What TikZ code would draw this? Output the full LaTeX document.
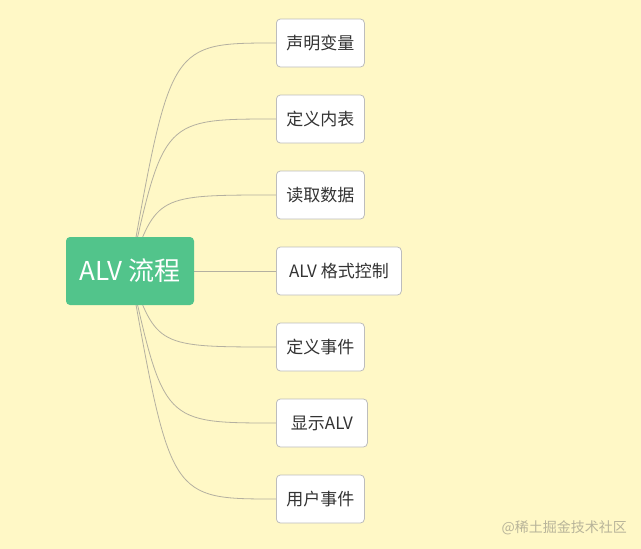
\documentclass[tikz,border=0pt]{standalone}
\usepackage{fontspec}
\setmainfont{Noto Sans CJK SC}
\usetikzlibrary{backgrounds}
\definecolor{bgc}{HTML}{FFF8C6}
\definecolor{greenc}{HTML}{52C48B}
\definecolor{linec}{HTML}{B4B0A0}
\definecolor{boxc}{HTML}{BDBDBD}
\definecolor{txtc}{HTML}{333333}
\definecolor{wmc}{HTML}{B8B49A}
\begin{document}
\begin{tikzpicture}[x=1pt,y=-1pt,
  rootbox/.style={fill=greenc,rounded corners=4pt,text=white,font=\fontsize{26}{30}\selectfont,minimum width=128pt,minimum height=68pt,inner sep=0pt},
  childbox/.style={draw=boxc,line width=0.8pt,fill=white,rounded corners=4pt,text=txtc,font=\fontsize{17}{20}\selectfont,minimum height=48pt,minimum width=88pt,inner xsep=10pt,inner ysep=0pt,anchor=west},
  link/.style={draw=linec,line width=0.8pt}]
\useasboundingbox (0,0) rectangle (641,549);
\node[rootbox] (root) at (130,271) {ALV 流程};
\coordinate (o) at (130,271);
\node[childbox] (c1) at (276,43) {声明变量};
\node[childbox] (c2) at (276,119) {定义内表};
\node[childbox] (c3) at (276,195) {读取数据};
\node[childbox,minimum width=125pt] (c4) at (276,271) {ALV 格式控制};
\node[childbox] (c5) at (276,347) {定义事件};
\node[childbox,minimum width=91pt] (c6) at (276,423) {显示ALV};
\node[childbox] (c7) at (276,499) {用户事件};
\begin{scope}[on background layer]
\fill[bgc] (0,0) rectangle (641,549);
\foreach \c/\cx in {c1/170.5,c2/163.7,c3/156.8,c5/156.8,c6/163.7,c7/170.5}{
  \coordinate (k\c) at (\cx,0);
  \draw[link] (o) .. controls (k\c |- \c.west) .. (\c.west);
}
\draw[link] (root.east) -- (c4.west);
\end{scope}
\node[anchor=south east,text=wmc,font=\fontsize{14}{16}\selectfont,inner sep=0pt] (wm) at (627,535) {@稀土掘金技术社区};
\end{tikzpicture}
\end{document}
